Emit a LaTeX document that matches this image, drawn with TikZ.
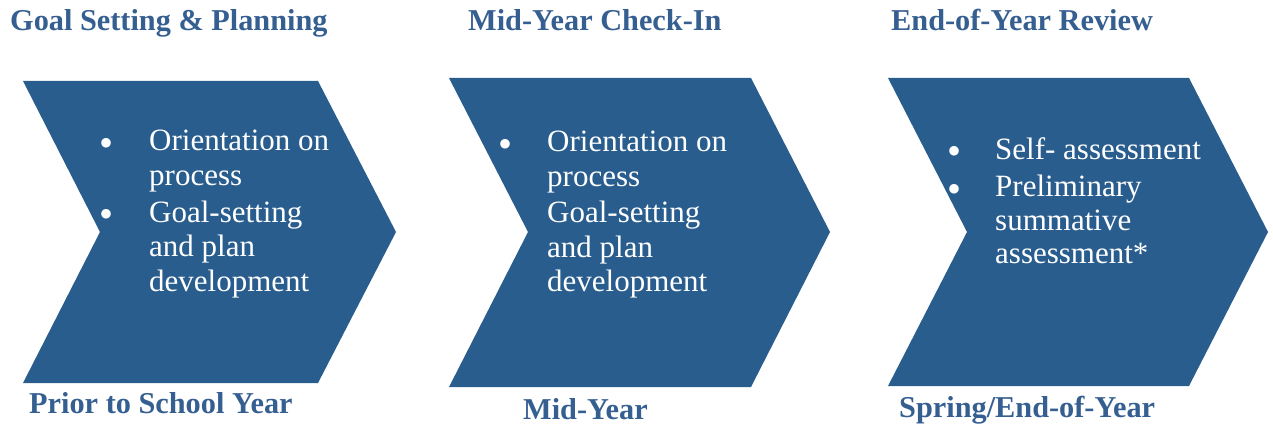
\documentclass[tikz,border=0pt]{standalone}
\usepackage{fontspec}
\setmainfont{Liberation Serif}
\definecolor{chevblue}{RGB}{41,93,142}
\definecolor{headblue}{RGB}{54,95,145}
\begin{document}
\begin{tikzpicture}[x=1pt,y=-1pt,
  chev/.style={fill=chevblue, draw=none},
  head/.style={text=headblue, inner sep=0pt, anchor=base west, font=\fontsize{30.3}{36}\selectfont\bfseries},
  body/.style={text=white, inner sep=0pt, anchor=base west, font=\fontsize{31}{35}\selectfont},
  bul/.style={text=white, inner sep=0pt, anchor=center, font=\fontsize{40}{40}\selectfont}]
\useasboundingbox (0,0) rectangle (1273,427);
% chevrons
\fill[chev] (23,81) -- (318,81) -- (396,232) -- (318,383) -- (23,383) -- (100,232) -- cycle;
\fill[chev] (449,78) -- (751,78) -- (830,232) -- (751,387) -- (449,387) -- (528,232) -- cycle;
\fill[chev] (888,78) -- (1189,78) -- (1268,232) -- (1189,386) -- (888,386) -- (967,232) -- cycle;
% headings
\node[head] (h1) at (10,31) {Goal Setting \& Planning};
\node[head] (h2) at (468,31) {Mid-Year Check-In};
\node[head] (h3) at (891,31) {End-of-Year Review};
% bottom labels
\node[head] (f1) at (29,413) {Prior to School Year};
\node[head] (f2) at (523,419) {Mid-Year};
\node[head] (f3) at (899,417) {Spring/End-of-Year};
% chevron 1 text
\node[bul] (b11) at (107,147) {•};
\node[bul] (b12) at (107,218) {•};
\node[body] (t11) at (149,151) {Orientation on};
\node[body] (t12) at (149,186) {process};
\node[body] (t13) at (149,223) {Goal-setting};
\node[body] (t14) at (149,257) {and plan};
\node[body] (t15) at (149,291) {development};
% chevron 2 text
\node[bul] (b21) at (505,148) {•};
\node[body] (t21) at (547,152) {Orientation on};
\node[body] (t22) at (547,187) {process};
\node[body] (t23) at (547,223) {Goal-setting};
\node[body] (t24) at (547,258) {and plan};
\node[body] (t25) at (547,292) {development};
% chevron 3 text
\node[bul] (b31) at (954,155) {•};
\node[bul] (b32) at (954,193) {•};
\node[body] (t31) at (995,160) {Self- assessment};
\node[body] (t32) at (995,197) {Preliminary};
\node[body] (t33) at (995,231) {summative};
\node[body] (t34) at (995,264) {assessment*};
\end{tikzpicture}
\end{document}
